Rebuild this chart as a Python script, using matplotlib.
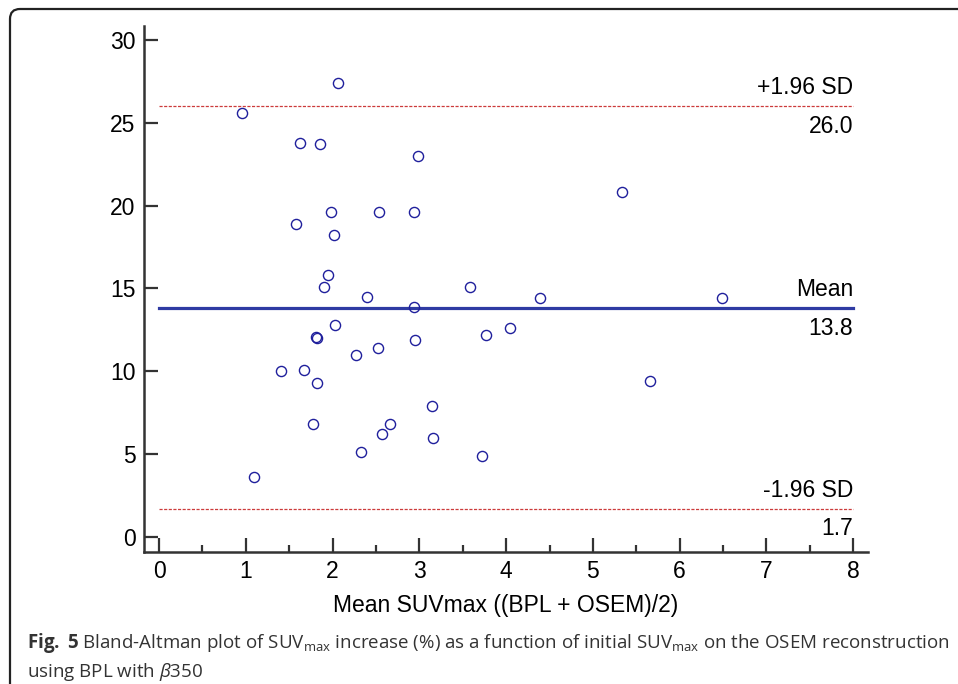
import numpy as np
import matplotlib.pyplot as plt
from matplotlib.patches import FancyBboxPatch

# mean SUVmax (x) and SUVmax increase in % (y)
mean_suv = [0.96, 2.06, 1.62, 1.85, 2.99, 5.33, 1.98, 2.54, 2.94, 1.58,
            2.02, 1.95, 1.90, 3.58, 2.40, 4.39, 6.49, 2.94, 2.03, 4.04,
            3.77, 1.81, 1.82, 2.95, 2.52, 2.27, 1.67, 1.40, 5.66, 1.82,
            3.15, 1.77, 2.66, 2.57, 3.16, 2.33, 3.72, 1.10]
increase = [25.6, 27.4, 23.8, 23.7, 23.0, 20.8, 19.6, 19.6, 19.6, 18.9,
            18.2, 15.8, 15.1, 15.1, 14.5, 14.4, 14.4, 13.9, 12.8, 12.6,
            12.2, 12.1, 12.0, 11.9, 11.4, 11.0, 10.1, 10.0, 9.4, 9.3,
            7.9, 6.8, 6.8, 6.2, 6.0, 5.1, 4.9, 3.6]

line_names = ['+1.96 SD', 'Mean', '-1.96 SD']
line_values = [26.0, 13.8, 1.7]

xticks = [0, 1, 2, 3, 4, 5, 6, 7, 8]
yticks = [0, 5, 10, 15, 20, 25, 30]

plt.rcParams['font.family'] = ['Liberation Sans', 'DejaVu Sans']
plt.rcParams['mathtext.fontset'] = 'custom'
plt.rcParams['mathtext.rm'] = 'Open Sans'
plt.rcParams['mathtext.it'] = 'Open Sans:italic'
plt.rcParams['mathtext.bf'] = 'Open Sans:bold'

fig = plt.figure(figsize=(9.58, 6.84), dpi=100)
ax = fig.add_axes([144 / 958, 1 - 552 / 684, 724 / 958, 526 / 684])

spine_col = '#333333'

# limit lines
for name, val in zip(line_names, line_values):
    if name == 'Mean':
        ax.plot([0, 8], [val, val], color='#2f3ba3', lw=2.3, zorder=2)
    else:
        ax.plot([0, 8], [val, val], color='#cc3b3b', lw=0.9,
                linestyle=(0, (2.5, 1.2)), zorder=2)
    ax.annotate(name, (8, val), xytext=(0, 5), textcoords='offset points',
                ha='right', va='bottom', fontsize=16.5)
    ax.annotate(f'{val:.1f}', (8, val), xytext=(0, -6), textcoords='offset points',
                ha='right', va='top', fontsize=16.5)

ax.plot(mean_suv, increase, 'o', mfc='none', mec='#1f1f9c', ms=7.3, mew=1.0, zorder=3)

ax.set_xlim(-0.173, 8.17)
ax.set_ylim(-0.905, 30.84)
ax.set_xticks(xticks)
ax.set_xticks(np.arange(0.5, 8, 1), minor=True)
ax.set_yticks(yticks)

for s in ['top', 'right']:
    ax.spines[s].set_visible(False)
for s in ['left', 'bottom']:
    ax.spines[s].set_linewidth(1.8)
    ax.spines[s].set_color(spine_col)

ax.tick_params(which='major', direction='in', length=10, width=1.6,
               color=spine_col, labelsize=16.5, pad=6)
ax.tick_params(which='minor', direction='in', length=5, width=1.6, color=spine_col)

ax.set_xlabel('Mean SUVmax ((BPL + OSEM)/2)', fontsize=16.5, labelpad=8)

# rounded frame around the figure panel (runs off the right and bottom edges)
frame = FancyBboxPatch((0.2, -0.5), 10.0, 7.15, boxstyle='round,pad=0.1',
                       transform=fig.dpi_scale_trans, fill=False,
                       edgecolor='#222222', lw=1.6, clip_on=False)
fig.patches.append(frame)

caption = (r'$\bf{Fig.}$ $\bf{5}$ Bland-Altman plot of SUV$_{\rm max}$ increase (%) as a function '
           r'of initial SUV$_{\rm max}$ on the OSEM reconstruction' '\n'
           r'using BPL with $\it{\beta}$350')
fig.text(27 / 958, 1 - 631 / 684, caption, fontsize=13.5, family='Open Sans',
         color='#333333', va='top', ha='left', linespacing=1.4)

fig.savefig('out.png', dpi=100)
